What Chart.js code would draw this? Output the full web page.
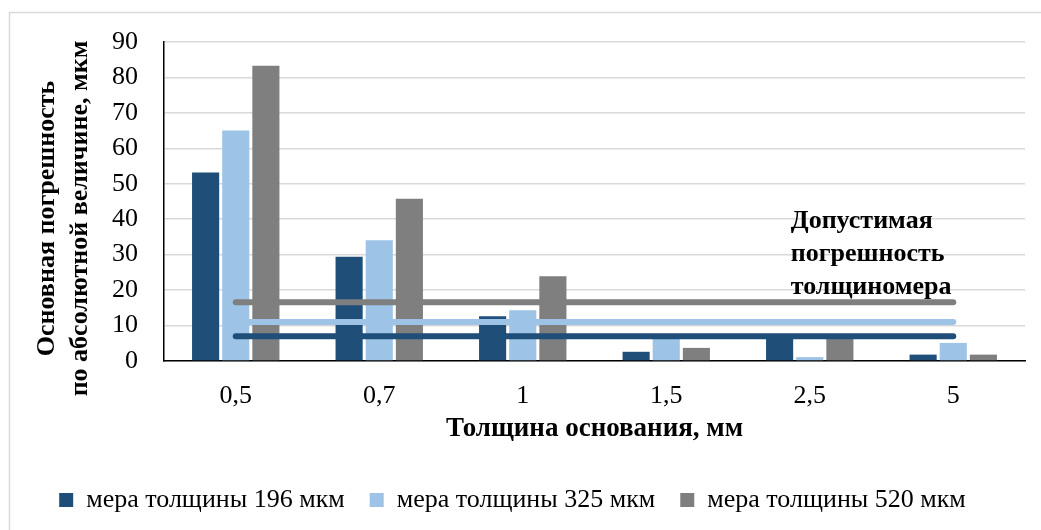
<!DOCTYPE html>
<html lang="ru">
<head>
<meta charset="utf-8">
<title>Основная погрешность толщиномера</title>
<script src="https://cdn.jsdelivr.net/npm/chart.js@4/dist/chart.umd.min.js"></script>
<style>
  html, body { margin: 0; padding: 0; background: #fff; }
  #wrap { width: 1041px; height: 530px; position: relative; }
</style>
</head>
<body>
<div id="wrap"><canvas id="errChart"></canvas></div>
<script>
// Толщина основания, мм
const thickness = ["0,5", "0,7", "1", "1,5", "2,5", "5"];

// Основная погрешность для каждой меры толщины, мкм
const err196 = [53.2, 29.4, 12.6, 2.6, 7.0, 1.8];
const err325 = [65.0, 34.1, 14.3, 6.3, 1.1, 5.1];
const err520 = [83.3, 45.8, 23.9, 3.7, 6.5, 1.8];

// Допустимая погрешность толщиномера для каждой меры
const limit196 = [7, 7, 7, 7, 7, 7];
const limit325 = [11, 11, 11, 11, 11, 11];
const limit520 = [16.6, 16.6, 16.6, 16.6, 16.6, 16.6];

const yTicks = [0, 10, 20, 30, 40, 50, 60, 70, 80, 90];

const yTitle = ["Основная погрешность", "по абсолютной величине, мкм"];
const noteLines = ["Допустимая", "погрешность", "толщиномера"];

const DARK = "#1f4e79";
const LIGHT = "#9dc3e6";
const GRAY = "#7f7f7f";
const FONT = "'Liberation Serif', 'Times New Roman', serif";

// светло-серая рамка вокруг всей диаграммы
const frame = {
  id: "frame",
  beforeDraw(chart) {
    const ctx = chart.ctx;
    ctx.save();
    ctx.strokeStyle = "#d9d9d9";
    ctx.lineWidth = 1.5;
    ctx.strokeRect(9.5, 12.5, 1200, 600);
    ctx.restore();
  }
};

// подпись оси Y в две строки, чуть ниже середины оси
const yAxisTitle = {
  id: "yAxisTitle",
  afterDraw(chart) {
    const ctx = chart.ctx;
    const area = chart.chartArea;
    const cy = (area.top + area.bottom) / 2 + 17;
    ctx.save();
    ctx.font = "bold 26px " + FONT;
    ctx.fillStyle = "#000";
    ctx.textAlign = "center";
    ctx.textBaseline = "middle";
    yTitle.forEach((t, i) => {
      ctx.save();
      ctx.translate(47 + i * 33, cy);
      ctx.rotate(-Math.PI / 2);
      ctx.fillText(t, 0, 0);
      ctx.restore();
    });
    ctx.restore();
  }
};

// подпись к линиям допустимой погрешности
const note = {
  id: "note",
  afterDatasetsDraw(chart) {
    const ctx = chart.ctx;
    const x = chart.scales.x.getPixelForValue(4) - 19;
    const y0 = chart.scales.y.getPixelForValue(39.3);
    ctx.save();
    ctx.font = "bold 26px " + FONT;
    ctx.fillStyle = "#000";
    ctx.textAlign = "left";
    ctx.textBaseline = "middle";
    noteLines.forEach((t, i) => ctx.fillText(t, x, y0 + i * 33));
    ctx.restore();
  }
};

const barOpts = { categoryPercentage: 0.63, barPercentage: 0.9, order: 2 };
const lineOpts = {
  type: "line", borderWidth: 6, borderCapStyle: "round", pointRadius: 0,
  fill: false, order: 1
};

new Chart(document.getElementById("errChart"), {
  type: "bar",
  data: {
    labels: thickness,
    datasets: [
      { label: "мера толщины 196 мкм", data: err196, backgroundColor: DARK, ...barOpts },
      { label: "мера толщины 325 мкм", data: err325, backgroundColor: LIGHT, ...barOpts },
      { label: "мера толщины 520 мкм", data: err520, backgroundColor: GRAY, ...barOpts },
      { label: "limit520", data: limit520, borderColor: GRAY, ...lineOpts },
      { label: "limit325", data: limit325, borderColor: LIGHT, ...lineOpts },
      { label: "limit196", data: limit196, borderColor: DARK, ...lineOpts }
    ]
  },
  options: {
    responsive: true,
    maintainAspectRatio: false,
    animation: false,
    layout: { autoPadding: false, padding: { top: 42, left: 0, right: 16, bottom: 7 } },
    plugins: {
      tooltip: { enabled: false },
      legend: {
        position: "bottom",
        labels: {
          filter: item => item.datasetIndex < 3,
          color: "#000",
          font: { family: FONT, size: 26 },
          boxWidth: 14,
          boxHeight: 14,
          padding: 25
        }
      }
    },
    scales: {
      x: {
        grid: { display: false },
        border: { display: true, color: "#000", width: 1.5 },
        ticks: { color: "#000", font: { family: FONT, size: 26 }, padding: 12 },
        title: {
          display: true,
          text: "Толщина основания, мм",
          color: "#000",
          font: { family: FONT, size: 27, weight: "bold" },
          padding: { top: 0, bottom: 17 }
        },
        afterFit(scale) { scale.height = 101; }
      },
      y: {
        min: 0,
        max: 90,
        afterBuildTicks(scale) { scale.ticks = yTicks.map(v => ({ value: v })); },
        grid: { color: "#d9d9d9", lineWidth: 1.5, drawTicks: false },
        border: { display: true, color: "#000", width: 1.5 },
        ticks: { color: "#000", font: { family: FONT, size: 26 }, padding: 26 },
        afterFit(scale) { scale.width = 164; }
      }
    }
  },
  plugins: [frame, yAxisTitle, note]
});
</script>
</body>
</html>
